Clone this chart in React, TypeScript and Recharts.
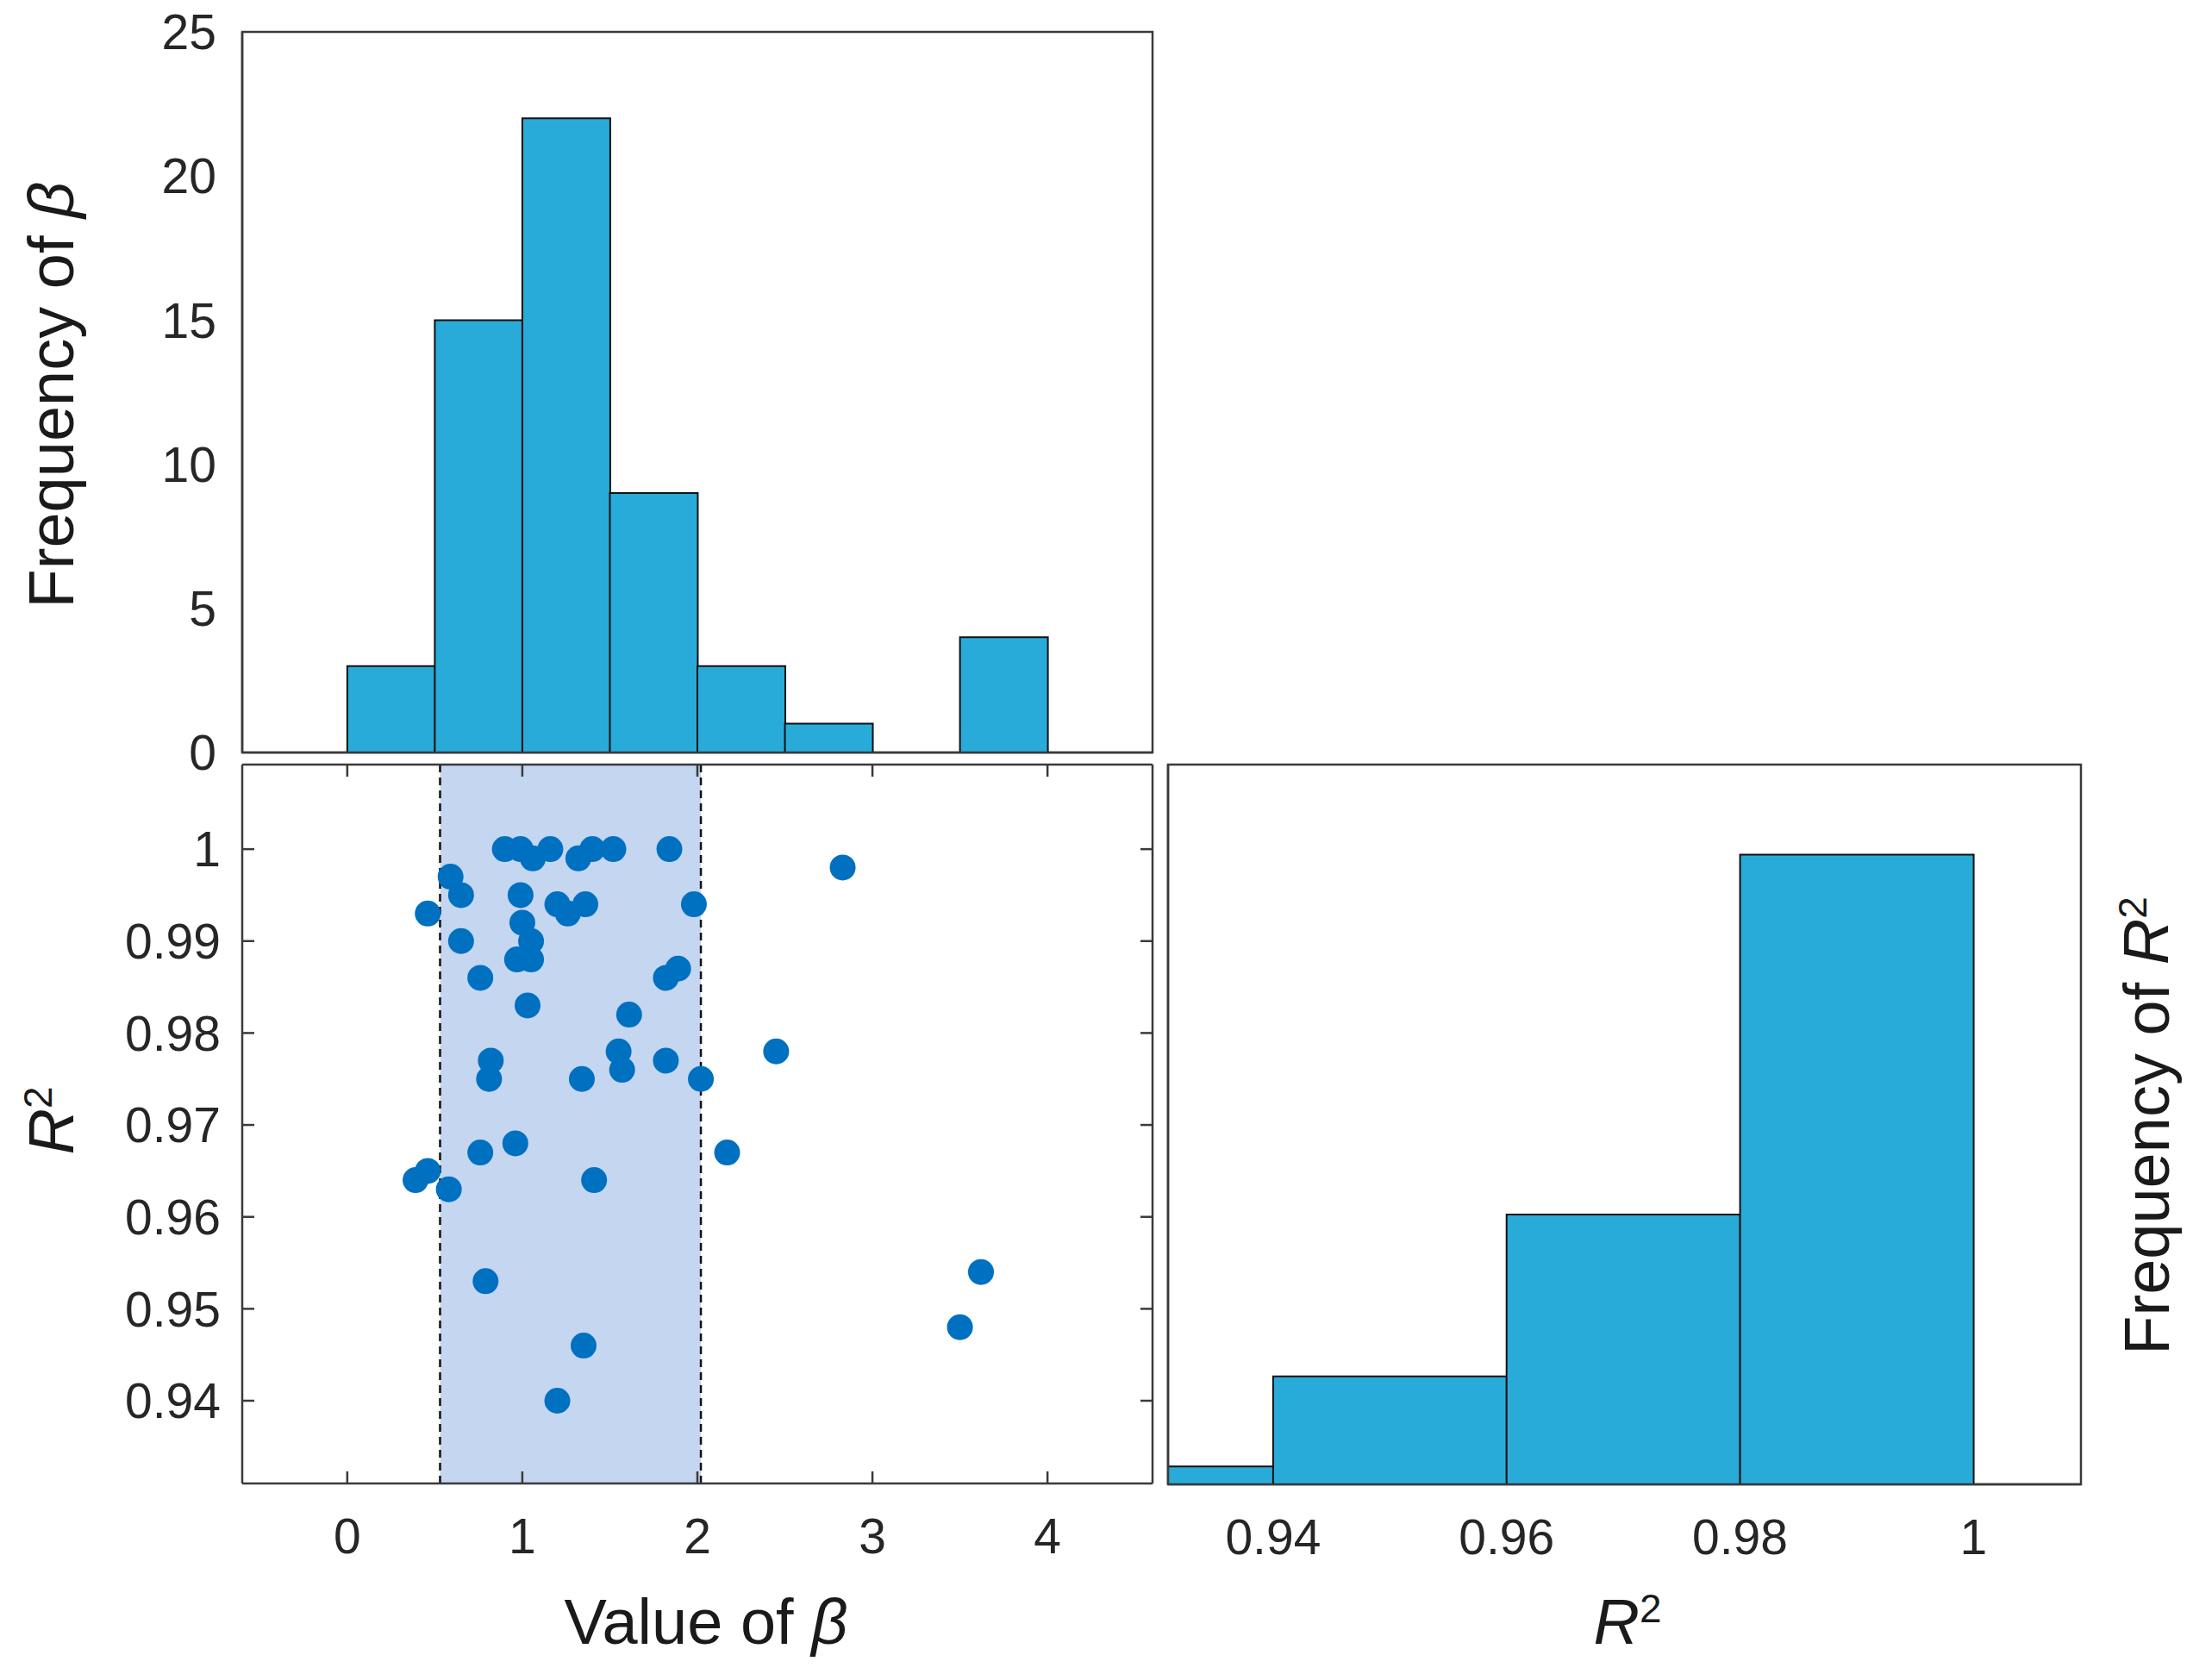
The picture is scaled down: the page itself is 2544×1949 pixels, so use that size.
import React from 'react';
import {
  ComposedChart,
  ScatterChart,
  Bar,
  Scatter,
  XAxis,
  YAxis,
  ReferenceArea,
  ReferenceLine,
} from 'recharts';

// histogram of beta (bins of 0.5)
const betaBinStarts = [0, 0.5, 1, 1.5, 2, 2.5, 3, 3.5];
const betaCounts = [3, 15, 22, 9, 3, 1, 0, 4];
const betaTicks = [0, 1, 2, 3, 4];
const betaFreqTicks = [0, 5, 10, 15, 20, 25];

// histogram of R^2 (bins of 0.02)
const r2BinStarts = [0.92, 0.94, 0.96, 0.98];
const r2Counts = [1, 6, 15, 35];
const r2Ticks = [0.94, 0.96, 0.98, 1];
const r2ScatterTicks = [0.94, 0.95, 0.96, 0.97, 0.98, 0.99, 1];

// scatter: beta vs R^2
const betaValues = [
  0.9, 0.99, 1.06, 1.16, 1.32, 1.4, 1.52, 1.84, 0.59, 0.65, 0.46, 0.99, 1.2, 1.26, 1.36, 1.98,
  1.0, 0.65, 1.05, 0.97, 1.05, 0.76, 1.82, 1.89, 1.03, 1.61, 0.82, 0.81, 1.55, 1.57, 1.34, 1.82,
  2.02, 0.76, 0.96, 2.17, 0.39, 0.46, 0.58, 1.41, 0.79, 1.35, 1.2, 2.83, 2.45, 3.62, 3.5,
];
const r2Values = [
  1.0, 1.0, 0.999, 1.0, 0.999, 1.0, 1.0, 1.0, 0.997, 0.995, 0.993, 0.995, 0.994, 0.993, 0.994, 0.994,
  0.992, 0.99, 0.99, 0.988, 0.988, 0.986, 0.986, 0.987, 0.983, 0.982, 0.977, 0.975, 0.978, 0.976, 0.975, 0.977,
  0.975, 0.967, 0.968, 0.967, 0.964, 0.965, 0.963, 0.964, 0.953, 0.946, 0.94, 0.998, 0.978, 0.954, 0.948,
];

// shaded beta interval
const betaRange = [0.53, 2.02];

const betaDomain = [-0.6, 4.6];
const betaFreqDomain = [0, 25];
const r2Domain = [0.931, 1.0092];
const r2FreqDomain = [0, 40];

const font = '"Liberation Sans", Arial, sans-serif';
const barFill = '#29abd9';
const dotFill = '#0070c0';
const frameColor = '#3a3a3a';
const frame = { stroke: frameColor, strokeWidth: 2.5 };
const tickText = { fill: '#262626', fontSize: 57, fontFamily: font };
const tickMark = { stroke: frameColor, strokeWidth: 2.5 };

const betaHist = betaBinStarts.map((s, i) => ({ mid: s + 0.25, count: betaCounts[i] }));
const r2Hist = r2BinStarts.map((s, i) => ({ mid: s + 0.01, count: r2Counts[i] }));
const points = betaValues.map((b, i) => ({ beta: b, r2: r2Values[i] }));

const blank = () => '';

const Dot = (p: any) => <circle cx={p.cx} cy={p.cy} r={15} fill={dotFill} />;
const Nothing = () => <g />;

const Title = ({ x, y, rotate, children }: any) => (
  <div
    style={{
      position: 'absolute',
      left: x,
      top: y,
      transform: `translate(-50%, -50%)${rotate ? ' rotate(-90deg)' : ''}`,
      whiteSpace: 'nowrap',
      fontFamily: font,
      fontSize: 74,
      lineHeight: 1,
      color: '#1a1a1a',
    }}
  >
    {children}
  </div>
);

const R2 = () => (
  <span>
    <i>R</i>
    <span style={{ fontSize: '0.62em', verticalAlign: '0.55em' }}>2</span>
  </span>
);

export default function App() {
  return (
    <div style={{ position: 'absolute', left: 0, top: 0, width: 2544, height: 1949, background: '#fff' }}>
      {/* top: frequency of beta */}
      <div style={{ position: 'absolute', left: 0, top: 0 }}>
        <ComposedChart
          width={1400}
          height={930}
          data={betaHist}
          margin={{ top: 37, right: 63, bottom: 56, left: 0 }}
          barCategoryGap={0}
          barGap={0}
        >
          <XAxis dataKey="mid" type="number" domain={betaDomain} ticks={betaTicks} allowDataOverflow height={1} tick={false} tickLine={false} axisLine={frame} />
          <YAxis type="number" domain={betaFreqDomain} ticks={betaFreqTicks} interval={0} width={281} tickSize={0} tickMargin={30} tickLine={false} axisLine={frame} tick={tickText} />
          <Bar dataKey="count" fill={barFill} stroke="#111" strokeWidth={2} isAnimationActive={false} />
          <ReferenceArea
            x1={betaDomain[0]}
            x2={betaDomain[1]}
            y1={betaFreqDomain[0]}
            y2={betaFreqDomain[1]}
            fill="none"
            fillOpacity={0}
            stroke={frameColor}
            strokeWidth={2.5}
            ifOverflow="visible"
          />
        </ComposedChart>
      </div>

      {/* bottom left: scatter */}
      <div style={{ position: 'absolute', left: 0, top: 850 }}>
        <ScatterChart width={1400} height={1000} margin={{ top: 36, right: 62, bottom: 0, left: 0 }}>
          <XAxis dataKey="beta" type="number" domain={betaDomain} ticks={betaTicks} interval={0} allowDataOverflow height={129} tickSize={-14} tickMargin={55} axisLine={frame} tickLine={tickMark} tick={tickText} />
          <XAxis xAxisId="top" dataKey="beta" orientation="top" type="number" domain={betaDomain} ticks={betaTicks} interval={0} allowDataOverflow height={1} tickSize={-14} tickFormatter={blank} axisLine={frame} tickLine={tickMark} />
          <YAxis dataKey="r2" type="number" domain={r2Domain} ticks={r2ScatterTicks} interval={0} allowDataOverflow width={281} tickSize={-14} tickMargin={39} axisLine={frame} tickLine={tickMark} tick={tickText} />
          <YAxis yAxisId="right" dataKey="r2" orientation="right" type="number" domain={r2Domain} ticks={r2ScatterTicks} interval={0} allowDataOverflow width={1} tickSize={-14} tickFormatter={blank} axisLine={frame} tickLine={tickMark} />
          <ReferenceArea x1={betaRange[0]} x2={betaRange[1]} fill="#c5d6f0" fillOpacity={1} stroke="none" />
          <ReferenceLine x={betaRange[0]} stroke="#111" strokeWidth={2.5} strokeDasharray="9 6" />
          <ReferenceLine x={betaRange[1]} stroke="#111" strokeWidth={2.5} strokeDasharray="9 6" />
          <Scatter data={points} shape={Dot} isAnimationActive={false} />
          {/* same points on the top/right axes so the box ticks get drawn */}
          <Scatter xAxisId="top" yAxisId="right" data={points} shape={Nothing} isAnimationActive={false} />
        </ScatterChart>
      </div>

      {/* bottom right: frequency of R^2 */}
      <div style={{ position: 'absolute', left: 1300, top: 850 }}>
        <ComposedChart
          width={1244}
          height={1000}
          data={r2Hist}
          margin={{ top: 37, right: 130, bottom: 0, left: 54 }}
          barCategoryGap={0}
          barGap={0}
        >
          <XAxis dataKey="mid" type="number" domain={r2Domain} ticks={r2Ticks} interval={0} allowDataOverflow height={128} tickSize={0} tickMargin={41} tickLine={false} axisLine={frame} tick={tickText} />
          <YAxis type="number" domain={r2FreqDomain} width={1} tick={false} tickLine={false} axisLine={frame} />
          <Bar dataKey="count" fill={barFill} stroke="#111" strokeWidth={2} isAnimationActive={false} />
          <ReferenceArea
            x1={r2Domain[0]}
            x2={r2Domain[1]}
            y1={r2FreqDomain[0]}
            y2={r2FreqDomain[1]}
            fill="none"
            fillOpacity={0}
            stroke={frameColor}
            strokeWidth={2.5}
            ifOverflow="visible"
          />
        </ComposedChart>
      </div>

      <Title x={60} y={458} rotate>
        Frequency of <i>β</i>
      </Title>
      <Title x={60} y={1300} rotate>
        <R2 />
      </Title>
      <Title x={819} y={1882}>
        Value of <i>β</i>
      </Title>
      <Title x={1888} y={1882}>
        <R2 />
      </Title>
      <Title x={2490} y={1306} rotate>
        Frequency of <R2 />
      </Title>
    </div>
  );
}
